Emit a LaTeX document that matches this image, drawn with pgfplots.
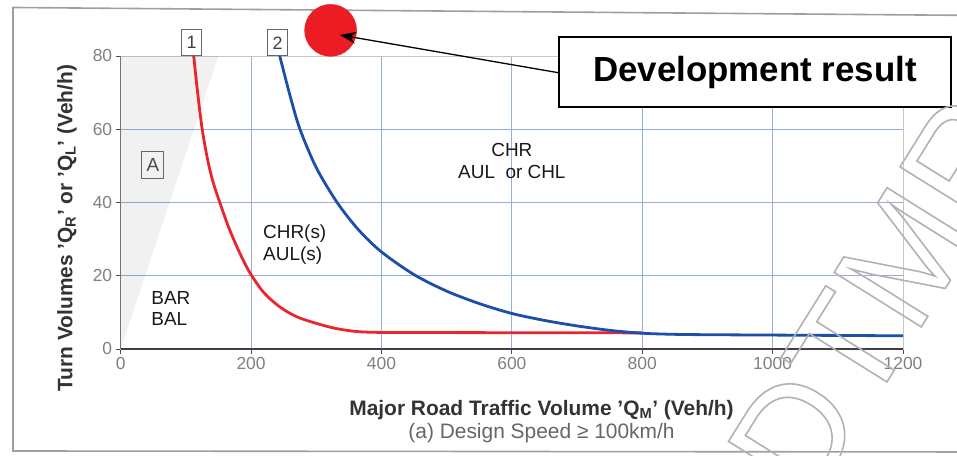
\documentclass[border=0pt]{standalone}
\usepackage{fontspec}
\setmainfont{Liberation Sans}
\usepackage{pgfplots}
\pgfplotsset{compat=1.18}
\usetikzlibrary{arrows.meta}
\definecolor{gridblue}{RGB}{150,175,222}
\definecolor{curvered}{RGB}{232,38,48}
\definecolor{curveblue}{RGB}{28,78,172}
\definecolor{dotred}{RGB}{236,28,36}
\begin{document}
\begin{tikzpicture}[x=1bp,y=1bp]
\useasboundingbox (0,0) rectangle (957,456);
\fill[white] (0,0) rectangle (957,456);
\draw[gray!75, line width=1.6bp] (980,4) -- (13,5) -- (13,448.5) -- (980,440.5);
\begin{axis}[
  at={(120.7bp,107bp)}, anchor=south west,
  scale only axis, width=782.3bp, height=293bp,
  xmin=0, xmax=1200, ymin=0, ymax=80,
  xtick={0,200,400,600,800,1000,1200}, ytick={0,20,40,60,80},
  grid=major, major grid style={draw=gridblue, line width=0.9bp},
  axis line style={draw=gray!45, line width=0.8bp},
  tick align=outside, tick pos=left, major tick length=5bp,
  major tick style={draw=black!70, line width=0.8bp},
  xticklabel style={font=\fontsize{17.5}{17.5}\selectfont, text=black!50},
  yticklabel style={font=\fontsize{17.5}{17.5}\selectfont, text=black!50},
  /pgf/number format/assume math mode=true,
  /pgf/number format/1000 sep={},
  clip=false,
]
\addplot[draw=none, fill=black, fill opacity=0.055] coordinates {(0,0) (0,80) (150,80)} -- cycle;
\addplot[curvered, line width=2.8bp, smooth] coordinates {
 (112,80) (118,70) (125,60) (133,52) (141,46) (152,40) (165,33.5) (178,28) (190,23.5) (201,20)
 (220,15.3) (244,11.5) (270,8.8) (300,7.0) (330,5.6) (360,4.8) (390,4.55) (450,4.5) (600,4.45) (800,4.4)};
\addplot[curveblue, line width=2.8bp, smooth] coordinates {
 (244,80) (260,69) (275,60) (300,49.5) (332,40) (365,32.5) (400,26.5) (450,20.3)
 (500,15.8) (550,12.4) (600,9.7) (650,7.8) (700,6.3) (750,5.1) (800,4.3) (850,4.0) (900,3.9) (1000,3.8) (1200,3.6)};
\addplot[only marks, mark=*, mark size=26bp, color=dotred] coordinates {(322,87)};
\draw[black!75, line width=1.2bp] (rel axis cs:0,0) -- (rel axis cs:1,0);
\draw[black!55, line width=1bp] (rel axis cs:0,0) -- (rel axis cs:0,1);
\node[draw=black!60, line width=1bp, fill=white, minimum width=20bp, minimum height=26bp, inner sep=1bp,
  font=\fontsize{18}{18}\selectfont, text=black!75] at (axis cs:108.9,83.6) {1};
\node[draw=black!60, line width=1bp, fill=white, minimum width=20bp, minimum height=26bp, inner sep=1bp,
  font=\fontsize{18}{18}\selectfont, text=black!75] at (axis cs:240.5,83.6) {2};
\node[draw=black!60, line width=1bp, minimum width=22bp, minimum height=27bp, inner sep=1bp,
  font=\fontsize{19}{19}\selectfont, text=black!70] at (axis cs:49.5,50.2) {A};
\node[align=left, font=\fontsize{19}{21}\selectfont, text=black!90] at (axis cs:77,11) {BAR\\BAL};
\node[align=left, font=\fontsize{19}{22}\selectfont, text=black!90] at (axis cs:267,28.6) {CHR(s)\\AUL(s)};
\node[align=center, font=\fontsize{19}{22}\selectfont, text=black!90] at (axis cs:600,51.3) {CHR\\AUL\ \ or CHL};
\end{axis}
\node[rotate=90, font=\fontsize{21}{21}\selectfont\bfseries, text=black!80] at (67,228)
  {Turn Volumes 'Q\textsubscript{R}' or 'Q\textsubscript{L}' (Veh/h)};
\node[font=\fontsize{21}{21}\selectfont\bfseries, text=black!80] at (541.5,46)
  {Major Road Traffic Volume 'Q\textsubscript{M}' (Veh/h)};
\node[font=\fontsize{21}{21}\selectfont, text=black!60] at (541.5,23)
  {(a) Design Speed ≥ 100km/h};
\draw[-{Stealth[length=16bp, width=12bp]}, line width=1.3bp] (560,383) -- (340,421);
\node[draw, line width=1.8bp, fill=white, minimum width=392bp, minimum height=70bp,
  font=\fontsize{35}{35}\selectfont\bfseries] at (755,384) {Development result};
\node[rotate=58, font=\fontsize{150}{150}\selectfont, text=gray!60] at (880,160)
  {\special{pdf:literal direct 1 Tr 1.6 w}DTMR\special{pdf:literal direct 0 Tr}};
\end{tikzpicture}
\end{document}
